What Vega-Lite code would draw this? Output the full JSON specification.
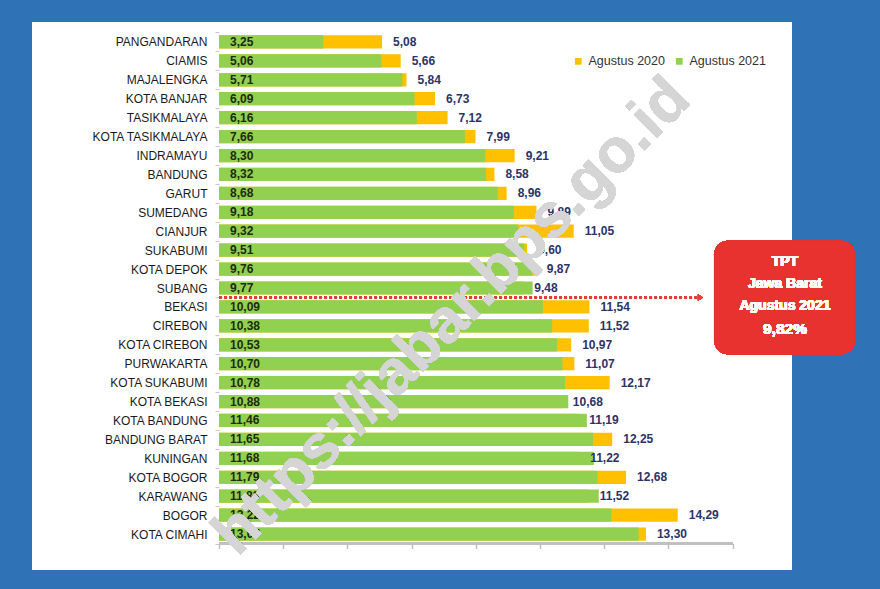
{
  "$schema": "https://vega.github.io/schema/vega-lite/v6.json",
  "width": 760,
  "height": 548,
  "autosize": {"type": "none"},
  "padding": {"left": 32, "top": 22, "right": 88, "bottom": 19},
  "background": "#2f72b6",
  "config": {
    "view": {"fill": "white", "stroke": null},
    "font": "Liberation Sans",
    "locale": {"number": {"decimal": ",", "thousands": ".", "grouping": [3], "currency": ["", ""]}}
  },
  "resolve": {"axis": {"x": "independent", "y": "independent"}},
  "data": {
    "values": [
      {"region": "PANGANDARAN", "y2021": 3.25, "y2020": 5.08},
      {"region": "CIAMIS", "y2021": 5.06, "y2020": 5.66},
      {"region": "MAJALENGKA", "y2021": 5.71, "y2020": 5.84},
      {"region": "KOTA BANJAR", "y2021": 6.09, "y2020": 6.73},
      {"region": "TASIKMALAYA", "y2021": 6.16, "y2020": 7.12},
      {"region": "KOTA TASIKMALAYA", "y2021": 7.66, "y2020": 7.99},
      {"region": "INDRAMAYU", "y2021": 8.30, "y2020": 9.21},
      {"region": "BANDUNG", "y2021": 8.32, "y2020": 8.58},
      {"region": "GARUT", "y2021": 8.68, "y2020": 8.96},
      {"region": "SUMEDANG", "y2021": 9.18, "y2020": 9.89},
      {"region": "CIANJUR", "y2021": 9.32, "y2020": 11.05},
      {"region": "SUKABUMI", "y2021": 9.51, "y2020": 9.60},
      {"region": "KOTA DEPOK", "y2021": 9.76, "y2020": 9.87},
      {"region": "SUBANG", "y2021": 9.77, "y2020": 9.48},
      {"region": "BEKASI", "y2021": 10.09, "y2020": 11.54},
      {"region": "CIREBON", "y2021": 10.38, "y2020": 11.52},
      {"region": "KOTA CIREBON", "y2021": 10.53, "y2020": 10.97},
      {"region": "PURWAKARTA", "y2021": 10.70, "y2020": 11.07},
      {"region": "KOTA SUKABUMI", "y2021": 10.78, "y2020": 12.17},
      {"region": "KOTA BEKASI", "y2021": 10.88, "y2020": 10.68},
      {"region": "KOTA BANDUNG", "y2021": 11.46, "y2020": 11.19},
      {"region": "BANDUNG BARAT", "y2021": 11.65, "y2020": 12.25},
      {"region": "KUNINGAN", "y2021": 11.68, "y2020": 11.22},
      {"region": "KOTA BOGOR", "y2021": 11.79, "y2020": 12.68},
      {"region": "KARAWANG", "y2021": 11.83, "y2020": 11.52},
      {"region": "BOGOR", "y2021": 12.22, "y2020": 14.29},
      {"region": "KOTA CIMAHI", "y2021": 13.07, "y2020": 13.30}
    ]
  },
  "encoding": {
    "y": {
      "field": "region",
      "type": "nominal",
      "sort": null,
      "scale": {"range": [10.5, 521.5], "paddingInner": 0, "paddingOuter": 0},
      "axis": null
    }
  },
  "layer": [
    {
      "mark": {"type": "bar", "height": {"band": 0.7}},
      "encoding": {
        "y": {
          "field": "region",
          "type": "nominal",
          "sort": null,
          "scale": {"range": [10.5, 521.5], "paddingInner": 0, "paddingOuter": 0},
          "axis": {
            "title": null,
            "offset": -187,
            "domain": false,
            "ticks": true,
            "tickBand": "extent",
            "tickSize": 4,
            "tickColor": "#c8c8c8",
            "labelFontSize": 12,
            "labelColor": "#1a1a1a",
            "labelPadding": 8,
            "labelFont": "Liberation Sans"
          }
        },
        "x": {
          "field": "y2020",
          "type": "quantitative",
          "scale": {"domain": [-5.826, 17.85], "nice": false, "zero": false},
          "axis": {
            "title": null,
            "orient": "bottom",
            "offset": -26.5,
            "values": [0, 2, 4, 6, 8, 10, 12, 14, 16],
            "labels": false,
            "domain": false,
            "grid": false,
            "tickSize": 5,
            "tickColor": "#c0c0c0",
            "tickWidth": 1.5
          }
        },
        "x2": {"datum": 0},
        "color": {
          "datum": "Agustus 2020",
          "scale": {"domain": ["Agustus 2020", "Agustus 2021"], "range": ["#FFC000", "#92D050"]},
          "legend": {
            "title": null,
            "orient": "none",
            "legendX": 540,
            "legendY": 33,
            "direction": "horizontal",
            "symbolType": "square",
            "symbolSize": 45,
            "labelFontSize": 12.5,
            "labelColor": "#333333",
            "columnPadding": 8,
            "labelOffset": 4
          }
        }
      }
    },
    {
      "mark": {"type": "bar", "height": {"band": 0.7}},
      "encoding": {
        "x": {"field": "y2021", "type": "quantitative", "axis": null},
        "x2": {"datum": 0},
        "color": {"datum": "Agustus 2021"}
      }
    },
    {
      "mark": {"type": "text", "align": "left", "baseline": "middle", "dx": 11, "fontWeight": "bold", "fontSize": 12, "color": "#1d2b10"},
      "encoding": {
        "x": {"datum": 0, "axis": null},
        "text": {"field": "y2021", "type": "quantitative", "format": ".2f"}
      }
    },
    {
      "mark": {"type": "text", "align": "left", "baseline": "middle", "dx": 11, "fontWeight": "bold", "fontSize": 12, "color": "#2d3366"},
      "encoding": {
        "x": {"field": "y2020", "type": "quantitative", "axis": null},
        "text": {"field": "y2020", "type": "quantitative", "format": ".2f"}
      }
    },
    {
      "mark": {"type": "rule", "color": "#c0c0c0", "strokeWidth": 1.5},
      "encoding": {
        "x": {"datum": 0, "axis": null},
        "x2": {"datum": 16},
        "y": {"datum": "KOTA CIMAHI", "bandPosition": 1, "axis": null}
      }
    },
    {
      "mark": {"type": "rule", "color": "#e0403a", "strokeWidth": 1.5, "strokeDash": [3, 2]},
      "encoding": {
        "x": {"datum": 0, "axis": null},
        "x2": {"datum": 14.95},
        "y": {"datum": "BEKASI", "bandPosition": 0, "axis": null}
      }
    },
    {
      "mark": {"type": "point", "shape": "triangle-right", "filled": true, "size": 35, "color": "#e0403a", "opacity": 1},
      "encoding": {
        "x": {"datum": 15.0, "axis": null},
        "y": {"datum": "BEKASI", "bandPosition": 0, "axis": null}
      }
    },
    {
      "mark": {"type": "rect", "color": "#e8322f", "cornerRadius": 14},
      "encoding": {
        "x": {"datum": 15.42, "axis": null},
        "x2": {"datum": 19.81},
        "y": {"datum": "SUKABUMI", "bandPosition": 0, "axis": null},
        "y2": {"datum": "KOTA CIREBON", "bandPosition": 1}
      }
    },
    {
      "mark": {"type": "text", "align": "center", "baseline": "middle", "dy": 12, "fontWeight": "bold", "fontSize": 14, "color": "white", "lineHeight": 22},
      "encoding": {
        "x": {"datum": 17.63, "axis": null},
        "y": {"datum": "SUKABUMI", "axis": null},
        "text": {"value": ["TPT", "Jawa Barat", "Agustus 2021"]}
      }
    },
    {
      "mark": {"type": "text", "align": "center", "baseline": "middle", "dy": 3, "fontWeight": "bold", "fontSize": 15.5, "color": "white"},
      "encoding": {
        "x": {"datum": 17.63, "axis": null},
        "y": {"datum": "CIREBON", "axis": null},
        "text": {"value": "9,82%"}
      }
    },
    {
      "mark": {"type": "text", "align": "center", "baseline": "middle", "fontWeight": "bold", "fontSize": 62, "fill": "#d6d6d6", "fillOpacity": 0.55, "angle": -45},
      "encoding": {
        "x": {"datum": 7.25, "axis": null},
        "y": {"datum": "BEKASI", "bandPosition": 1, "axis": null},
        "text": {"value": "https://jabar.bps.go.id"}
      }
    }
  ]
}
